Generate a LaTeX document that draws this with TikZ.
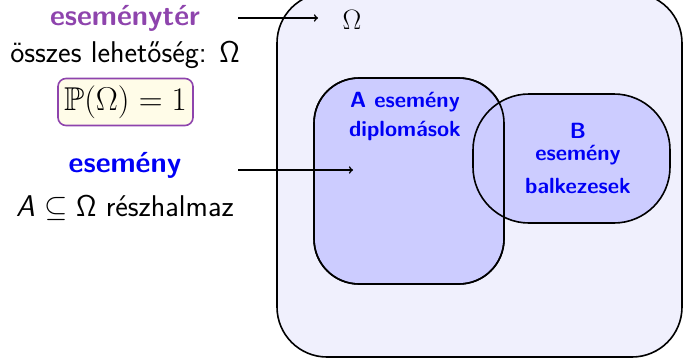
\RequirePackage{fix-cm}
\documentclass[tikz,border=0pt]{standalone}
\usepackage{amssymb}
\definecolor{purp}{RGB}{142,68,173}
\definecolor{bblue}{RGB}{0,0,245}
\definecolor{lav}{RGB}{240,240,253}
\definecolor{setfill}{RGB}{204,204,255}
\definecolor{yel}{RGB}{255,252,232}
\begin{document}
\begin{tikzpicture}[x=1pt,y=-1pt,font=\sffamily,
  setbox/.style={draw=black,line width=1.6pt,fill=setfill,outer sep=0pt,inner sep=0pt},
  settext/.style={text=bblue,font=\sffamily\bfseries\fontsize{22}{24}\selectfont,inner sep=0pt},
  lefttext/.style={font=\sffamily\fontsize{30}{34}\selectfont,inner sep=0pt},
  leftbold/.style={font=\sffamily\bfseries\fontsize{29}{34}\selectfont,inner sep=0pt},
  arr/.style={->,line width=1.6pt}]
\useasboundingbox (0,0) rectangle (683,359);
\node[draw=black,line width=1.6pt,fill=lav,rounded corners=50pt,minimum width=405pt,minimum height=364pt,outer sep=0pt] (omega) at (479.5,175) {};
\node[setbox,rounded corners=45pt,minimum width=190pt,minimum height=206pt] (A) at (409,181) {};
\node[setbox,rounded corners=56pt,minimum width=197pt,minimum height=129pt] (B) at (571.5,158.5) {};
\draw[line width=1.6pt,rounded corners=45pt] (A.north west) rectangle (A.south east);
\node[settext] (a1) at (405,102) {A\ esemény};
\node[settext] (a2) at (405,131) {diplomások};
\node[settext] (b0) at (578,131) {B};
\node[settext] (b1) at (578,155) {esemény};
\node[settext] (b2) at (578,186) {balkezesek};
\node[inner sep=0pt] (om) at (352,20) {\fontsize{28}{30}\selectfont$\Omega$};
\node[leftbold,text=purp] (t1) at (125,18) {eseménytér};
\node[lefttext] (t2) at (125,55) {összes lehetőség: $\mathsf{\Omega}$};
\node[draw=purp,line width=1.6pt,fill=yel,rounded corners=8pt,minimum width=135pt,minimum height=47pt,inner sep=0pt,font=\fontsize{33}{36}\selectfont] (p) at (125.5,102) {$\mathbb{P}(\Omega)=1$};
\node[leftbold,text=bblue] (t3) at (125,165) {esemény};
\node[lefttext] (t4) at (125,208) {\textit{A} $\subseteq\mathsf{\Omega}$ részhalmaz};
\coordinate (s1) at (238,18);
\coordinate (e1) at (318,18);
\coordinate (s2) at (238,170);
\coordinate (e2) at (353,170);
\draw[arr] (s1) -- (e1);
\draw[arr] (s2) -- (e2);
\end{tikzpicture}
\end{document}
